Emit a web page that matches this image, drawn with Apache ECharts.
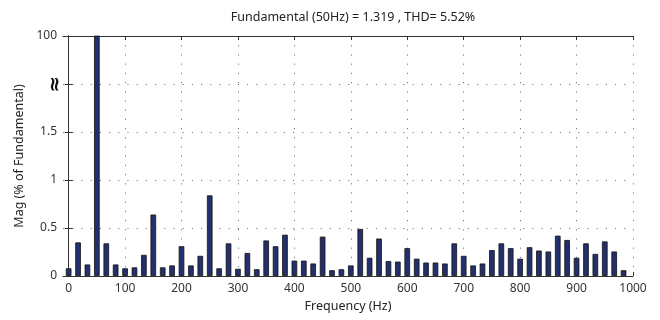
<!DOCTYPE html>
<html>
<head>
<meta charset="utf-8">
<script src="https://cdn.jsdelivr.net/npm/echarts@6/dist/echarts.min.js"></script>
<style>html,body{margin:0;padding:0;background:#fff;}#c{width:660px;height:320px;}</style>
</head>
<body>
<div id="c"></div>
<script>
var titleText = 'Fundamental (50Hz) = 1.319 , THD= 5.52%';
var freqs = [0,16.7,33.3,50,66.7,83.3,100,116.7,133.3,150,166.7,183.3,200,216.7,233.3,250,266.7,283.3,300,316.7,333.3,350,366.7,383.3,400,416.7,433.3,450,466.7,483.3,500,516.7,533.3,550,566.7,583.3,600,616.7,633.3,650,666.7,683.3,700,716.7,733.3,750,766.7,783.3,800,816.7,833.3,850,866.7,883.3,900,916.7,933.3,950,966.7,983.3];
var mags = [0.08,0.35,0.12,100,0.34,0.12,0.08,0.09,0.22,0.64,
            0.09,0.11,0.31,0.11,0.21,0.84,0.08,0.34,0.075,0.24,
            0.07,0.37,0.31,0.43,0.16,0.16,0.13,0.41,0.06,0.07,
            0.11,0.49,0.19,0.39,0.155,0.15,0.29,0.18,0.14,0.14,
            0.13,0.34,0.21,0.11,0.13,0.27,0.34,0.29,0.18,0.30,
            0.265,0.255,0.42,0.375,0.19,0.34,0.23,0.36,0.255,0.06];
var xTicks = [0,100,200,300,400,500,600,700,800,900,1000];
var yTickLabels = ['0','0.5','1','1.5','≈','100'];
var yTicks = [0,0.5,1,1.5,2,2.5];

var font = 'Noto Sans';
var dotted = {show:true, lineStyle:{color:'#7a7a7a', width:1, type:[1.2,8]}};
var data = freqs.map(function(f,i){return [f, mags[i]];});

var chart = echarts.init(document.getElementById('c'));
chart.setOption({
  animation:false,
  title:{text:titleText, left:348, top:6, textAlign:'center',
    textStyle:{fontFamily:font, fontSize:12.5, fontWeight:'normal', color:'#222'}},
  grid:{left:63, right:27, top:36, bottom:44},
  xAxis:[{
    type:'value', min:-10, max:1000,
    name:'Frequency (Hz)', nameLocation:'middle', nameGap:24,
    nameTextStyle:{fontFamily:font, fontSize:12.5, color:'#222'},
    axisLine:{show:true, onZero:false, lineStyle:{color:'#333'}},
    axisTick:{show:true, inside:true, length:4, customValues:xTicks, lineStyle:{color:'#333'}},
    axisLabel:{customValues:xTicks, fontFamily:font, fontSize:12, color:'#333', margin:7,
      formatter:function(v){return String(v);}},
    splitLine:dotted
  },{
    type:'value', min:-10, max:1000, position:'top',
    axisLine:{show:true, onZero:false, lineStyle:{color:'#333'}},
    axisTick:{show:true, inside:true, length:4, customValues:xTicks, lineStyle:{color:'#333'}},
    axisLabel:{show:false, customValues:xTicks},
    splitLine:{show:false}
  }],
  yAxis:[{
    type:'value', min:0, max:2.5, interval:0.5,
    name:'Mag (% of Fundamental)', nameLocation:'middle', nameGap:36,
    nameTextStyle:{fontFamily:font, fontSize:12.5, color:'#222'},
    axisLine:{show:true, lineStyle:{color:'#333'}},
    axisTick:{show:true, inside:true, length:4, lineStyle:{color:'#333'}},
    axisLabel:{fontFamily:font, fontSize:12, color:'#333', margin:6,
      formatter:function(v){var i=yTicks.indexOf(Math.round(v*10)/10); return (i>=0 && i!==4)?yTickLabels[i]:'';}},
    splitLine:dotted
  },{
    type:'value', min:0, max:2.5, interval:0.5, position:'right',
    axisLine:{show:true, lineStyle:{color:'#333'}},
    axisTick:{show:true, inside:true, length:4, lineStyle:{color:'#333'}},
    axisLabel:{show:false}, splitLine:{show:false}
  },{
    type:'value', min:0, max:2.5, interval:0.5, position:'left',
    axisLine:{show:false}, axisTick:{show:false}, splitLine:{show:false},
    axisLabel:{rotate:90, margin:-3, fontFamily:'DejaVu Sans', fontSize:20, fontWeight:'bold', color:'#111',
      formatter:function(v){var i=yTicks.indexOf(Math.round(v*10)/10); return i===4?yTickLabels[4]:'';}}
  }],
  series:[{
    type:'bar', data:data, barWidth:5.6, clip:true,
    itemStyle:{color:'#24306e', borderColor:'#111', borderWidth:0.8}
  }]
});
</script>
</body>
</html>
